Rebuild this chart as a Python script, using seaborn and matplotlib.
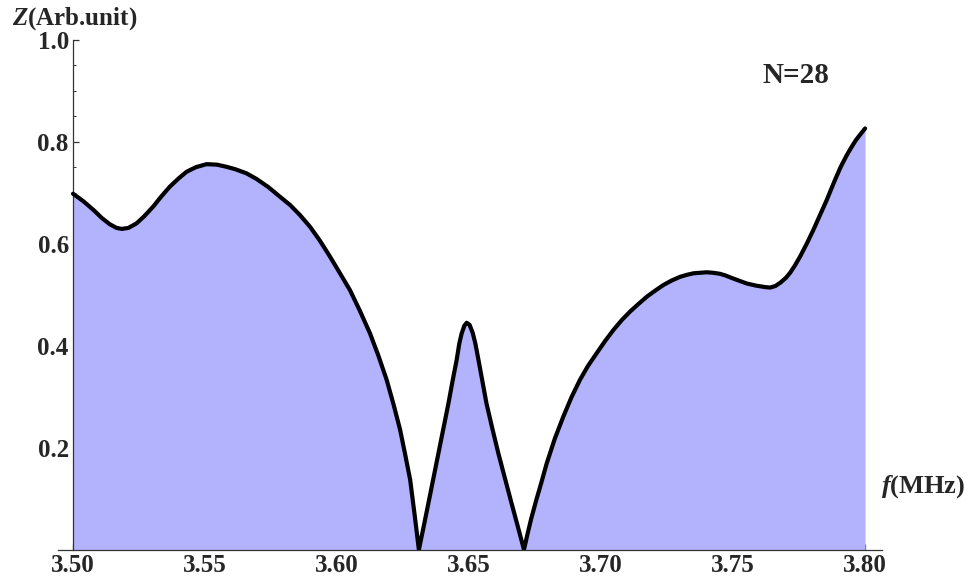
import matplotlib
matplotlib.use("Agg")
import matplotlib.pyplot as plt
import numpy as np
import pandas as pd
import seaborn as sns
from matplotlib.ticker import FixedLocator, MultipleLocator

# Impedance spectrum, N = 28
freq_mhz = [
    # broad shoulder and first zero
    3.5000, 3.5040, 3.5080, 3.5110, 3.5140, 3.5165, 3.5185, 3.5210, 3.5241,
    3.5270, 3.5304, 3.5335, 3.5367, 3.5400, 3.5430, 3.5465, 3.5506, 3.5545,
    3.5580, 3.5615, 3.5657, 3.5695, 3.5740, 3.5784, 3.5822, 3.5860, 3.5898,
    3.5935, 3.5973, 3.6010, 3.6049, 3.6087, 3.6125, 3.6157, 3.6188, 3.6214,
    3.6239, 3.6258, 3.6277, 3.6294, 3.6310,
    # narrow central peak
    3.6328, 3.6346, 3.6365, 3.6384, 3.6403, 3.6422, 3.6438, 3.6453, 3.6463,
    3.6472, 3.6482, 3.6491, 3.6502, 3.6514, 3.6524, 3.6535, 3.6550, 3.6566,
    3.6588, 3.6611, 3.6636, 3.6661, 3.6685, 3.6708,
    # upper arc and rise towards 3.80
    3.6722, 3.6735, 3.6755, 3.6773, 3.6794, 3.6825, 3.6857, 3.6888, 3.6920,
    3.6950, 3.6983, 3.7015, 3.7047, 3.7078, 3.7110, 3.7142, 3.7173, 3.7205,
    3.7236, 3.7268, 3.7299, 3.7325, 3.7350, 3.7375, 3.7400, 3.7425, 3.7450,
    3.7470, 3.7489, 3.7520, 3.7552, 3.7585, 3.7621, 3.7640, 3.7660, 3.7680,
    3.7700, 3.7716, 3.7735, 3.7754, 3.7780, 3.7804, 3.7830, 3.7855, 3.7870,
    3.7886, 3.7908, 3.7929, 3.7948, 3.7965, 3.7983, 3.8000,
]
impedance = [
    0.698, 0.683, 0.665, 0.650, 0.638, 0.631, 0.629, 0.631, 0.640,
    0.654, 0.673, 0.693, 0.712, 0.728, 0.741, 0.750, 0.756, 0.755,
    0.751, 0.746, 0.738, 0.727, 0.711, 0.692, 0.676, 0.656, 0.633,
    0.606, 0.575, 0.543, 0.509, 0.468, 0.424, 0.380, 0.333, 0.285,
    0.235, 0.187, 0.137, 0.068, 0.000,
    0.045, 0.091, 0.140, 0.189, 0.238, 0.287, 0.332, 0.372, 0.404,
    0.424, 0.439, 0.445, 0.441, 0.425, 0.404, 0.374, 0.332, 0.287,
    0.238, 0.189, 0.140, 0.091, 0.045, 0.000,
    0.032, 0.060, 0.098, 0.130, 0.169, 0.218, 0.261, 0.299, 0.333,
    0.360, 0.385, 0.409, 0.431, 0.450, 0.467, 0.482, 0.496, 0.508,
    0.519, 0.528, 0.535, 0.539, 0.542, 0.543, 0.544, 0.543, 0.541,
    0.538, 0.534, 0.528, 0.522, 0.518, 0.515, 0.514, 0.517, 0.524,
    0.533, 0.543, 0.558, 0.575, 0.601, 0.627, 0.657, 0.686, 0.705,
    0.725, 0.751, 0.772, 0.789, 0.803, 0.815, 0.826,
]

x_ticks = [3.50, 3.55, 3.60, 3.65, 3.70, 3.75, 3.80]
x_tick_labels = ["3.50", "3.55", "3.60", "3.65", "3.70", "3.75", "3.80"]
y_ticks = [0.2, 0.4, 0.6, 0.8, 1.0]
y_tick_labels = ["0.2", "0.4", "0.6", "0.8", "1.0"]

df = pd.DataFrame({"f": freq_mhz, "Z": impedance})

sns.set_style("ticks")
plt.rcParams["font.family"] = ["Liberation Serif", "DejaVu Serif"]
plt.rcParams["font.weight"] = "bold"
plt.rcParams["mathtext.fontset"] = "custom"
plt.rcParams["mathtext.rm"] = "Liberation Serif:bold"
plt.rcParams["mathtext.it"] = "Liberation Serif:italic:bold"
plt.rcParams["mathtext.bf"] = "Liberation Serif:bold"

fig = plt.figure(figsize=(9.79, 5.84), dpi=100)
ax = fig.add_axes([0.0592, 0.0587, 0.8417, 0.8733])

fill_color = "#b3b3fd"
ax.fill_between(df["f"], 0, df["Z"], color=fill_color, linewidth=0, zorder=1)
sns.lineplot(data=df, x="f", y="Z", ax=ax, color="black", linewidth=3.0,
             estimator=None, sort=True, zorder=3)
for line in ax.get_lines():
    line.set_solid_joinstyle("round")
    line.set_solid_capstyle("round")

ax.set_xlim(3.4943, 3.8064)
ax.set_ylim(0, 1.0)

for side in ("top", "right"):
    ax.spines[side].set_visible(False)
ax.spines["left"].set_position(("data", 3.5))
ax.spines["left"].set_bounds(0, 1.0)
for side in ("left", "bottom"):
    ax.spines[side].set_color("#333333")
    ax.spines[side].set_linewidth(0.9)

ax.xaxis.set_major_locator(FixedLocator(x_ticks))
ax.set_xticklabels(x_tick_labels)
ax.xaxis.set_minor_locator(MultipleLocator(0.01))
ax.yaxis.set_major_locator(FixedLocator(y_ticks))
ax.set_yticklabels(y_tick_labels)
ax.yaxis.set_minor_locator(MultipleLocator(0.05))

ax.tick_params(which="major", direction="in", length=4, width=0.9,
               color="#333333", labelsize=18, pad=3)
ax.tick_params(which="minor", direction="in", length=2.2, width=0.7,
               color="#333333")
for lab in ax.get_xticklabels() + ax.get_yticklabels():
    lab.set_fontweight("bold")

ax.set_xlabel("")
ax.set_ylabel("")

fig.text(12 / 979, 1 - 25 / 584, r"$Z$(Arb.unit)", fontsize=18,
         fontweight="bold", ha="left", va="baseline")
fig.text(881 / 979, 1 - 493 / 584, r"$f$(MHz)", fontsize=19,
         fontweight="bold", ha="left", va="baseline")
fig.text(763 / 979, 1 - 83 / 584, "N=28", fontsize=21,
         fontweight="bold", ha="left", va="baseline")

fig.savefig("out.png", dpi=100, facecolor="white")
